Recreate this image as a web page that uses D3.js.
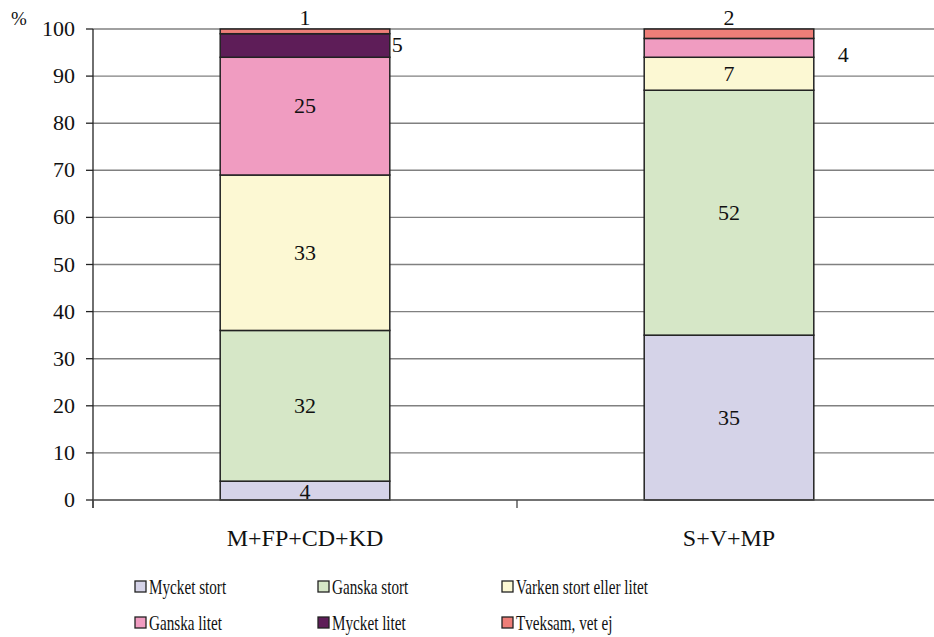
<!DOCTYPE html>
<html><head><meta charset="utf-8">
<script src="https://cdn.jsdelivr.net/npm/d3@7"></script>
<style>body{margin:0;background:#fff}svg{display:block}</style>
</head><body><svg id="c" width="934" height="637"></svg>
<script>
const categories = ["M+FP+CD+KD", "S+V+MP"];
const seriesNames = ["Mycket stort", "Ganska stort", "Varken stort eller litet", "Ganska litet", "Mycket litet", "Tveksam, vet ej"];
const colors = ["#d5d3e8", "#d6e7c7", "#fcf8d3", "#f09cc1", "#5e1d58", "#ee7e78"];
const values = [
  [4, 35],
  [32, 52],
  [33, 7],
  [25, 4],
  [5, 0],
  [1, 2]
];
const yTicks = [0, 10, 20, 30, 40, 50, 60, 70, 80, 90, 100];
const FONT = "Liberation Serif";

const svg = d3.select("#c");
const x = d3.scaleBand().domain(categories).range([93, 941]).paddingInner(0.6).paddingOuter(0.3);
const y = d3.scaleLinear().domain([0, 100]).range([500, 29]);

// gridlines
svg.append("g").selectAll("line").data(yTicks.filter(d => d > 0)).join("line")
  .attr("x1", 93).attr("x2", 941).attr("y1", d => y(d)).attr("y2", d => y(d))
  .attr("stroke", "#808080").attr("stroke-width", 1.4);

// stacked data
const rows = categories.map((c, i) => {
  const o = {cat: c};
  seriesNames.forEach((s, j) => o[s] = values[j][i]);
  return o;
});
const stack = d3.stack().keys(seriesNames)(rows);

const g = svg.append("g");
stack.forEach((layer, j) => {
  g.selectAll(null).data(layer.filter(d => d[1] - d[0] > 0)).join("rect")
    .attr("x", d => x(d.data.cat)).attr("width", x.bandwidth())
    .attr("y", d => y(d[1])).attr("height", d => y(d[0]) - y(d[1]))
    .attr("fill", colors[j]).attr("stroke", "#222").attr("stroke-width", 1.5);
});

// data labels
const lab = svg.append("g");
stack.forEach((layer, j) => {
  layer.forEach((d, i) => {
    const v = d[1] - d[0];
    if (v <= 0) return;
    const cx = x(d.data.cat) + x.bandwidth() / 2;
    let tx = cx, ty = y((d[0] + d[1]) / 2) + 7, anchor = "middle";
    const name = seriesNames[j];
    if (name === "Tveksam, vet ej") { ty = y(100) - 4; }
    else if (name === "Mycket litet") { tx = x(d.data.cat) + x.bandwidth() + 2; anchor = "start"; }
    else if (name === "Ganska litet" && v < 5) { tx = x(d.data.cat) + x.bandwidth() + 24; anchor = "start"; ty = y(96) + 14; }
    else if (name === "Ganska litet") { ty -= 10; }
    else if (v < 5) { ty = y(d[0]) - 1; }
    lab.append("text").attr("x", tx).attr("y", ty).attr("text-anchor", anchor)
      .attr("font-family", FONT).attr("font-size", 22).attr("fill", "#111").text(v);
  });
});

// y axis
const ya = svg.append("g");
ya.append("line").attr("x1", 93).attr("x2", 93).attr("y1", y(100)).attr("y2", 508).attr("stroke", "#222").attr("stroke-width", 1.3);
ya.selectAll("line.t").data(yTicks).join("line").attr("class", "t")
  .attr("x1", 86).attr("x2", 93).attr("y1", d => y(d)).attr("y2", d => y(d)).attr("stroke", "#222").attr("stroke-width", 1.3);
ya.selectAll("text").data(yTicks).join("text")
  .attr("x", 75).attr("y", d => y(d) + 7).attr("text-anchor", "end")
  .attr("font-family", FONT).attr("font-size", 22).attr("fill", "#111").text(d => d);
svg.append("text").attr("x", 11).attr("y", 25).attr("font-family", FONT).attr("font-size", 19).attr("fill", "#111").text("%");

// x axis
const xa = svg.append("g");
xa.append("line").attr("x1", 93).attr("x2", 941).attr("y1", 500).attr("y2", 500).attr("stroke", "#444").attr("stroke-width", 1.6);
xa.selectAll("line.t").data([x.range()[0], (x(categories[0]) + x(categories[1]) + x.bandwidth()) / 2, x.range()[1]]).join("line").attr("class", "t")
  .attr("x1", d => d).attr("x2", d => d).attr("y1", 500).attr("y2", 508).attr("stroke", "#444").attr("stroke-width", 1.3);
xa.selectAll("text").data(categories).join("text")
  .attr("x", d => x(d) + x.bandwidth() / 2).attr("y", 546).attr("text-anchor", "middle")
  .attr("font-family", FONT).attr("font-size", 24).attr("fill", "#111").text(d => d);

// legend
const legX = [135, 318, 502], legY = [587, 623];
const leg = svg.append("g");
seriesNames.forEach((s, i) => {
  const lx = legX[i % 3], ly = legY[Math.floor(i / 3)];
  leg.append("rect").attr("x", lx).attr("y", ly - 6).attr("width", 11).attr("height", 11)
    .attr("fill", colors[i]).attr("stroke", "#222").attr("stroke-width", 1.3);
  leg.append("text").attr("transform", `translate(${lx + 14},${ly + 7}) scale(0.69,1)`)
    .attr("font-family", FONT).attr("font-size", 22).attr("fill", "#111").text(s);
});
</script></body></html>
